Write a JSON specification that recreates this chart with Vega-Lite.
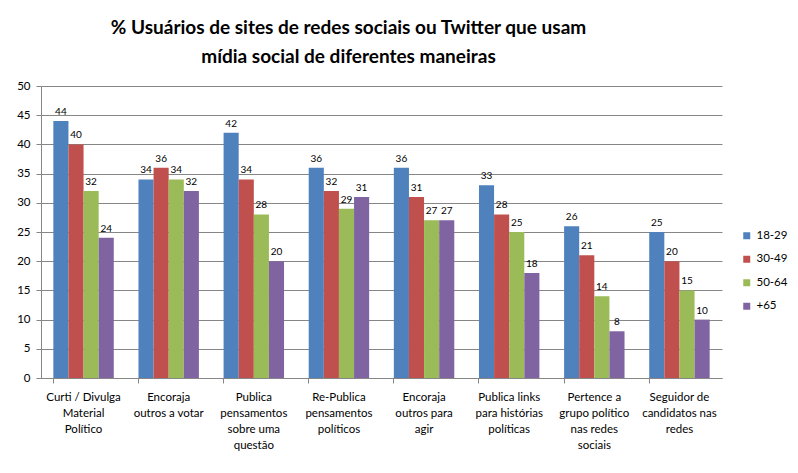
{
  "$schema": "https://vega.github.io/schema/vega-lite/v6.json",
  "autosize": "none",
  "width": 681,
  "height": 292,
  "padding": {"left": 41, "top": 86, "right": 76, "bottom": 95},
  "background": "white",
  "title": {
    "text": ["%  Usuários de sites de redes sociais ou Twitter que usam", "mídia social de diferentes maneiras"],
    "font": "Lato",
    "fontSize": 19,
    "fontWeight": "bold",
    "color": "#000000",
    "anchor": "middle",
    "dx": -33,
    "offset": 13,
    "lineHeight": 29
  },
  "config": {
    "view": {"stroke": null},
    "font": "Lato"
  },
  "data": {
    "values": [
      {"cat": "Curti / Divulga|Material|Político", "grupo": "18-29", "v": 44},
      {"cat": "Curti / Divulga|Material|Político", "grupo": "30-49", "v": 40},
      {"cat": "Curti / Divulga|Material|Político", "grupo": "50-64", "v": 32},
      {"cat": "Curti / Divulga|Material|Político", "grupo": "+65", "v": 24},
      {"cat": "Encoraja|outros a votar", "grupo": "18-29", "v": 34},
      {"cat": "Encoraja|outros a votar", "grupo": "30-49", "v": 36},
      {"cat": "Encoraja|outros a votar", "grupo": "50-64", "v": 34},
      {"cat": "Encoraja|outros a votar", "grupo": "+65", "v": 32},
      {"cat": "Publica|pensamentos|sobre uma|questão", "grupo": "18-29", "v": 42},
      {"cat": "Publica|pensamentos|sobre uma|questão", "grupo": "30-49", "v": 34},
      {"cat": "Publica|pensamentos|sobre uma|questão", "grupo": "50-64", "v": 28},
      {"cat": "Publica|pensamentos|sobre uma|questão", "grupo": "+65", "v": 20},
      {"cat": "Re-Publica|pensamentos|políticos", "grupo": "18-29", "v": 36},
      {"cat": "Re-Publica|pensamentos|políticos", "grupo": "30-49", "v": 32},
      {"cat": "Re-Publica|pensamentos|políticos", "grupo": "50-64", "v": 29},
      {"cat": "Re-Publica|pensamentos|políticos", "grupo": "+65", "v": 31},
      {"cat": "Encoraja|outros para|agir", "grupo": "18-29", "v": 36},
      {"cat": "Encoraja|outros para|agir", "grupo": "30-49", "v": 31},
      {"cat": "Encoraja|outros para|agir", "grupo": "50-64", "v": 27},
      {"cat": "Encoraja|outros para|agir", "grupo": "+65", "v": 27},
      {"cat": "Publica links|para histórias|políticas", "grupo": "18-29", "v": 33},
      {"cat": "Publica links|para histórias|políticas", "grupo": "30-49", "v": 28},
      {"cat": "Publica links|para histórias|políticas", "grupo": "50-64", "v": 25},
      {"cat": "Publica links|para histórias|políticas", "grupo": "+65", "v": 18},
      {"cat": "Pertence a|grupo político|nas redes|sociais", "grupo": "18-29", "v": 26},
      {"cat": "Pertence a|grupo político|nas redes|sociais", "grupo": "30-49", "v": 21},
      {"cat": "Pertence a|grupo político|nas redes|sociais", "grupo": "50-64", "v": 14},
      {"cat": "Pertence a|grupo político|nas redes|sociais", "grupo": "+65", "v": 8},
      {"cat": "Seguidor de|candidatos nas|redes", "grupo": "18-29", "v": 25},
      {"cat": "Seguidor de|candidatos nas|redes", "grupo": "30-49", "v": 20},
      {"cat": "Seguidor de|candidatos nas|redes", "grupo": "50-64", "v": 15},
      {"cat": "Seguidor de|candidatos nas|redes", "grupo": "+65", "v": 10}
    ]
  },
  "encoding": {
    "x": {
      "field": "cat",
      "type": "nominal",
      "sort": null,
      "scale": {"paddingInner": 0.29, "paddingOuter": 0.145},
      "axis": {
        "title": null,
        "labelAngle": 0,
        "labelExpr": "split(datum.label, '|')",
        "labelFont": "Lato",
        "labelFontSize": 11.5,
        "labelColor": "#000000",
        "labelLineHeight": 16,
        "labelPadding": 8,
        "bandPosition": 0,
        "tickColor": "#868686",
        "tickSize": 5,
        "domainColor": "#868686",
        "labelBaseline": "top"
      }
    },
    "xOffset": {
      "field": "grupo",
      "type": "nominal",
      "scale": {"domain": ["18-29", "30-49", "50-64", "+65"]}
    },
    "y": {
      "field": "v",
      "type": "quantitative",
      "scale": {"domain": [0, 50]},
      "axis": {
        "title": null,
        "values": [0, 5, 10, 15, 20, 25, 30, 35, 40, 45, 50],
        "labelFont": "Lato",
        "labelFontSize": 11.5,
        "labelColor": "#000000",
        "labelPadding": 6,
        "gridColor": "#868686",
        "gridOpacity": 1,
        "tickColor": "#868686",
        "tickSize": 5,
        "domainColor": "#868686"
      }
    }
  },
  "layer": [
    {
      "mark": {"type": "bar"},
      "encoding": {
        "color": {
          "field": "grupo",
          "type": "nominal",
          "scale": {
            "domain": ["18-29", "30-49", "50-64", "+65"],
            "range": ["#4F81BD", "#C0504D", "#9BBB59", "#8064A2"]
          },
          "legend": {
            "title": null,
            "orient": "none",
            "legendX": 700,
            "legendY": 144,
            "symbolType": "square",
            "symbolSize": 49,
            "symbolStrokeWidth": 0,
            "labelFont": "Lato",
            "labelFontSize": 11.5,
            "labelColor": "#000000",
            "rowPadding": 10.5,
            "labelOffset": 4
          }
        }
      }
    },
    {
      "mark": {"type": "text", "baseline": "bottom", "dy": -4, "fontSize": 10, "font": "Lato", "color": "#000000"},
      "encoding": {
        "text": {"field": "v", "type": "quantitative"}
      }
    }
  ]
}
